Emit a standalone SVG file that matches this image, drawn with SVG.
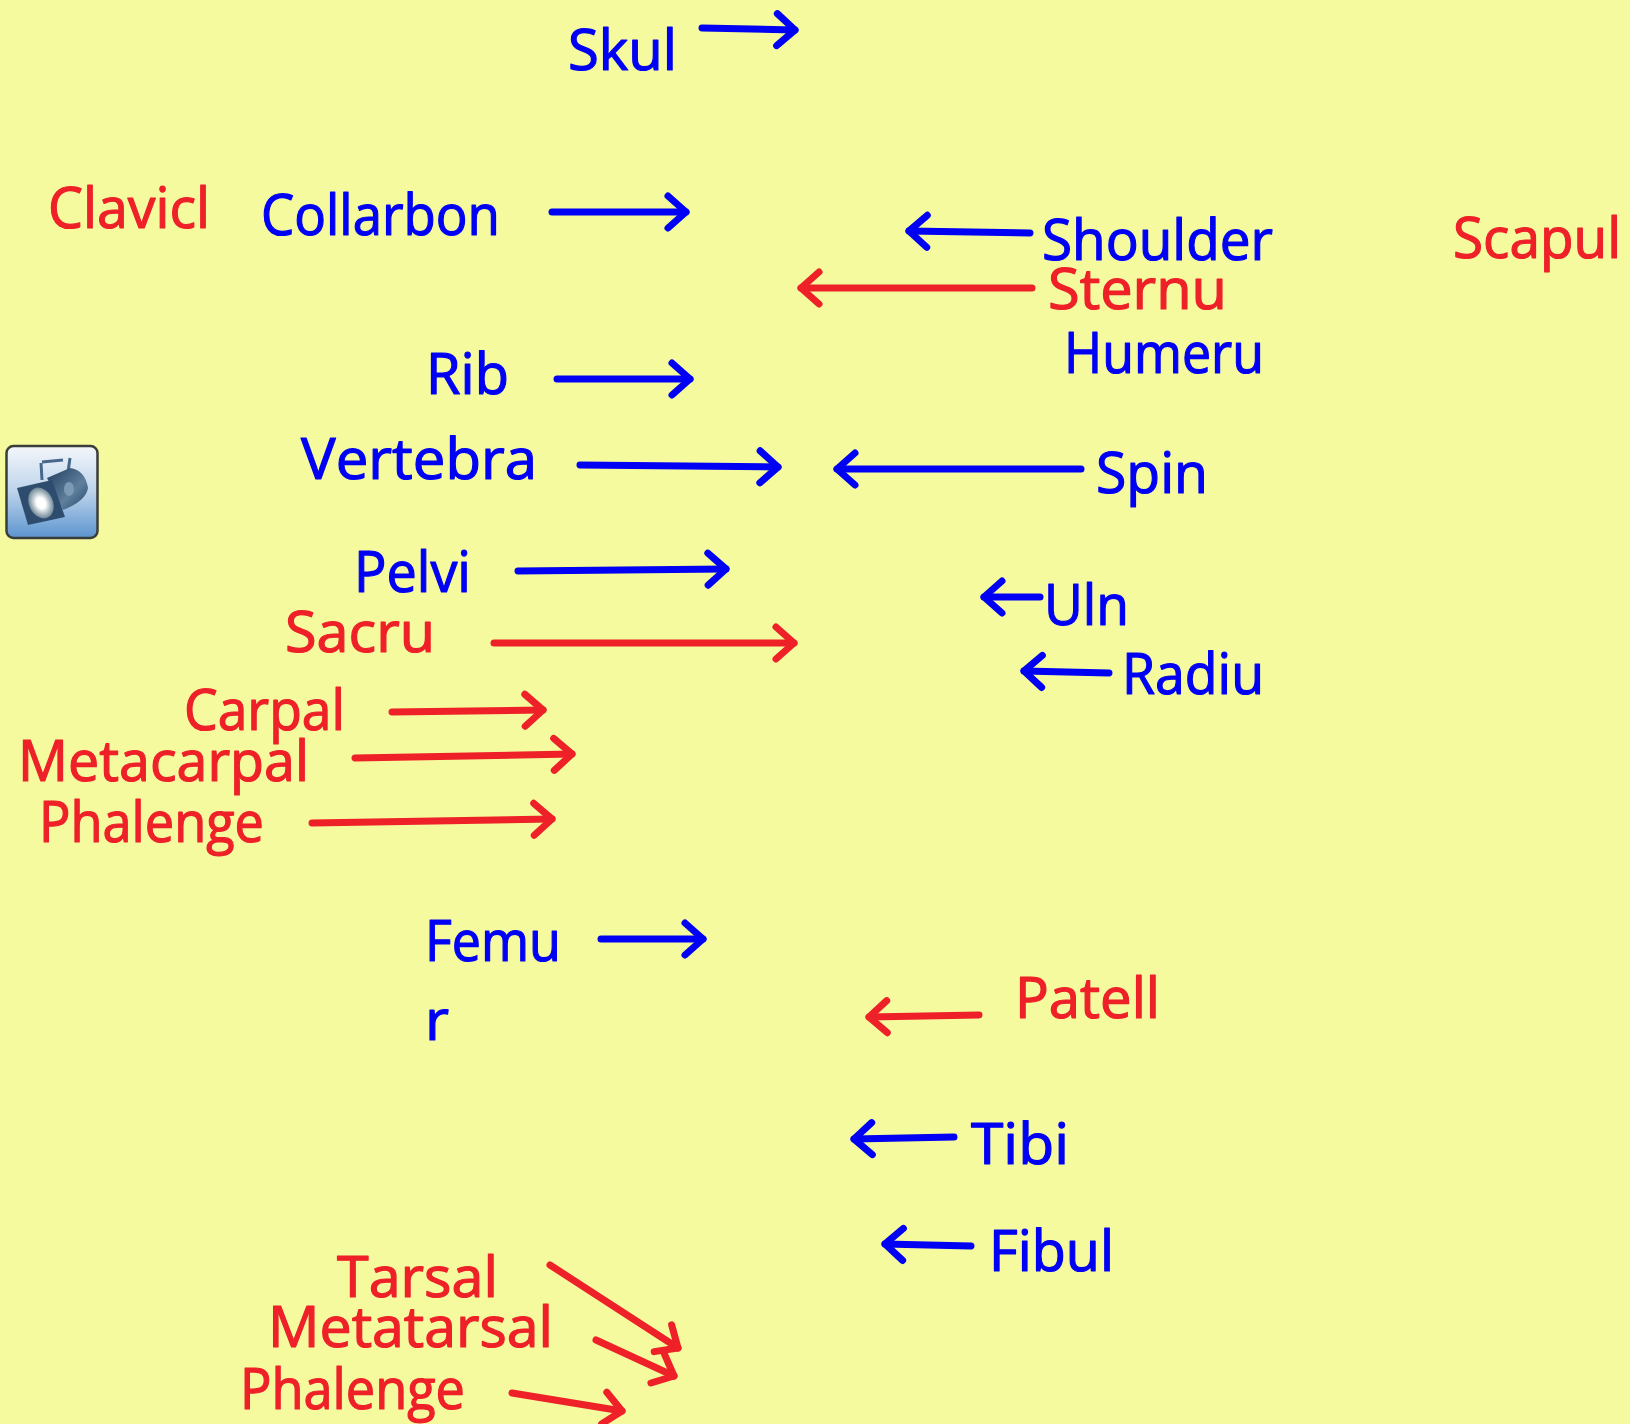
<svg xmlns="http://www.w3.org/2000/svg" width="1630" height="1424" viewBox="0 0 1630 1424">
<style>
text{font-family:"Open Sans","Noto Sans",sans-serif;font-size:56px;font-weight:400;stroke-width:1.200px;stroke-linejoin:round}
.b{fill:#0000f5;stroke:#0000f5}
.r{fill:#ee2028;stroke:#ee2028}
.cb,.cr{fill:none;stroke-width:7px;stroke-linecap:round}
.cb{stroke:#0000f5;marker-end:url(#hb)}
.cr{stroke:#ee2028;marker-end:url(#hr)}
</style>
<defs>
<marker id="hb" markerUnits="userSpaceOnUse" markerWidth="50" markerHeight="50" refX="25" refY="25" orient="auto" viewBox="0 0 50 50"><path d="M7 9L25 25L7 41" fill="none" stroke="#0000f5" stroke-width="7" stroke-linecap="round" stroke-linejoin="round"/></marker>
<marker id="hr" markerUnits="userSpaceOnUse" markerWidth="50" markerHeight="50" refX="25" refY="25" orient="auto" viewBox="0 0 50 50"><path d="M7 9L25 25L7 41" fill="none" stroke="#ee2028" stroke-width="7" stroke-linecap="round" stroke-linejoin="round"/></marker>
<linearGradient id="ig" x1="0" y1="0" x2="0" y2="1"><stop offset="0" stop-color="#f4f7fb"/><stop offset=".5" stop-color="#bcd3ea"/><stop offset="1" stop-color="#5c94cf"/></linearGradient>
<linearGradient id="lg" x1="0" y1="0" x2="1" y2="1"><stop offset="0" stop-color="#1f3d5c"/><stop offset=".6" stop-color="#5f7f9d"/><stop offset="1" stop-color="#24476a"/></linearGradient>
<radialGradient id="wg"><stop offset=".35" stop-color="#fff"/><stop offset="1" stop-color="#6f8797"/></radialGradient>
<filter id="bl" x="-10%" y="-10%" width="120%" height="120%"><feGaussianBlur stdDeviation="0.700"/></filter>
</defs>
<rect width="1630" height="1424" fill="#f5fa9e"/>
<g id="connectors">
<path class="cb" d="M702 28L795 30"/>
<path class="cb" d="M552 212L686 212"/>
<path class="cb" d="M1030 233L909 231"/>
<path class="cr" d="M1032 288L801 288"/>
<path class="cb" d="M557 379L690 379"/>
<path class="cb" d="M580 465L778 467"/>
<path class="cb" d="M1081 469L837 469"/>
<path class="cb" d="M518 571L726 569"/>
<path class="cr" d="M494 643L794 643"/>
<path class="cb" d="M1040 597L984 597"/>
<path class="cb" d="M1109 673L1024 671"/>
<path class="cr" d="M392 712L543 710"/>
<path class="cr" d="M355 758L572 754"/>
<path class="cr" d="M312 823L552 819"/>
<path class="cb" d="M601 939L703 939"/>
<path class="cr" d="M979 1015L869 1017"/>
<path class="cb" d="M954 1137L854 1139"/>
<path class="cb" d="M971 1246L885 1244"/>
<path class="cr" d="M550 1265L678 1348"/>
<path class="cr" d="M596 1340L674 1376"/>
<path class="cr" d="M512 1393L622 1411"/>
</g>
<g id="skul"><text class="b" x="568" y="70" textLength="109" lengthAdjust="spacingAndGlyphs">Skul</text></g>
<g id="clavicl"><text class="r" x="48" y="228" textLength="162" lengthAdjust="spacingAndGlyphs">Clavicl</text></g>
<g id="collarbon"><text class="b" x="261" y="235" textLength="239" lengthAdjust="spacingAndGlyphs">Collarbon</text></g>
<g id="shoulder"><text class="b" x="1042" y="260" textLength="231" lengthAdjust="spacingAndGlyphs">Shoulder</text></g>
<g id="scapul"><text class="r" x="1453" y="258" textLength="168" lengthAdjust="spacingAndGlyphs">Scapul</text></g>
<g id="sternu"><text class="r" x="1048" y="309" textLength="179" lengthAdjust="spacingAndGlyphs">Sternu</text></g>
<g id="humeru"><text class="b" x="1064" y="373" textLength="200" lengthAdjust="spacingAndGlyphs">Humeru</text></g>
<g id="rib"><text class="b" x="426" y="394" textLength="83" lengthAdjust="spacingAndGlyphs">Rib</text></g>
<g id="vertebra"><text class="b" x="301" y="479" textLength="236" lengthAdjust="spacingAndGlyphs">Vertebra</text></g>
<g id="spin"><text class="b" x="1096" y="493" textLength="112" lengthAdjust="spacingAndGlyphs">Spin</text></g>
<g id="pelvi"><text class="b" x="354" y="592" textLength="117" lengthAdjust="spacingAndGlyphs">Pelvi</text></g>
<g id="sacru"><text class="r" x="285" y="652" textLength="150" lengthAdjust="spacingAndGlyphs">Sacru</text></g>
<g id="uln"><text class="b" x="1044" y="625" textLength="85" lengthAdjust="spacingAndGlyphs">Uln</text></g>
<g id="radiu"><text class="b" x="1122" y="694" textLength="142" lengthAdjust="spacingAndGlyphs">Radiu</text></g>
<g id="carpal"><text class="r" x="184" y="730" textLength="161" lengthAdjust="spacingAndGlyphs">Carpal</text></g>
<g id="metacarpal"><text class="r" x="18" y="781" textLength="291" lengthAdjust="spacingAndGlyphs">Metacarpal</text></g>
<g id="phalenge-hand"><text class="r" x="39" y="842" textLength="225" lengthAdjust="spacingAndGlyphs">Phalenge</text></g>
<g id="femur"><text class="b" x="425" y="961" textLength="136" lengthAdjust="spacingAndGlyphs">Femu</text><text class="b" x="425" y="1040" textLength="24" lengthAdjust="spacingAndGlyphs">r</text></g>
<g id="patell"><text class="r" x="1015" y="1018" textLength="145" lengthAdjust="spacingAndGlyphs">Patell</text></g>
<g id="tibi"><text class="b" x="971" y="1164" textLength="98" lengthAdjust="spacingAndGlyphs">Tibi</text></g>
<g id="fibul"><text class="b" x="989" y="1271" textLength="125" lengthAdjust="spacingAndGlyphs">Fibul</text></g>
<g id="tarsal"><text class="r" x="337" y="1297" textLength="161" lengthAdjust="spacingAndGlyphs">Tarsal</text></g>
<g id="metatarsal"><text class="r" x="268" y="1347" textLength="285" lengthAdjust="spacingAndGlyphs">Metatarsal</text></g>
<g id="phalenge-foot"><text class="r" x="240" y="1409" textLength="225" lengthAdjust="spacingAndGlyphs">Phalenge</text></g>
<g id="icon">
<rect x="6.500" y="446" width="91" height="92" rx="7" fill="url(#ig)" stroke="#3a3d3a" stroke-width="2.500"/>
<g filter="url(#bl)">
<path d="M41 463L42 480M42 462L63 460M70 458L68 472" fill="none" stroke="#47688a" stroke-width="3"/>
<path d="M47 478L70 468Q85 470 88 488Q86 501 63 510Z" fill="url(#lg)"/>
<ellipse cx="69" cy="489" rx="5" ry="7" fill="#7c9ab3"/>
<path d="M17 488L52 480L65 517L28 525Z" fill="#2f4e6e"/>
<ellipse cx="41" cy="503" rx="12" ry="16" transform="rotate(-25 41 503)" fill="url(#wg)"/>
</g>
</g>
</svg>
